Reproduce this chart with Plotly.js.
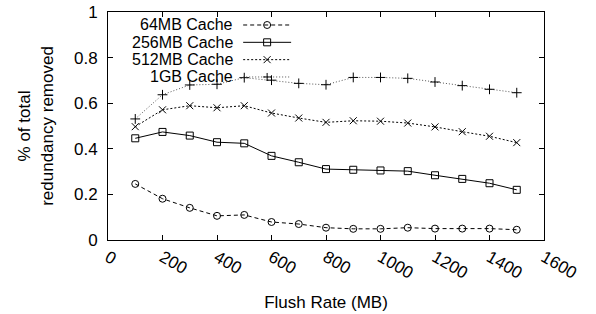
<!DOCTYPE html>
<html><head><meta charset="utf-8">
<script src="https://cdn.plot.ly/plotly-3.0.1.min.js"></script>
<style>html,body{margin:0;padding:0;background:#fff}#chart{width:596px;height:314px}</style>
</head><body><div id="chart"></div>
<script>
const flushRate = [100,200,300,400,500,600,700,800,900,1000,1100,1200,1300,1400,1500];
const seriesNames = ['64MB Cache','256MB Cache','512MB Cache','1GB Cache'];
const cache64  = [0.246,0.181,0.141,0.106,0.110,0.079,0.070,0.054,0.049,0.049,0.054,0.050,0.050,0.050,0.045];
const cache256 = [0.446,0.474,0.458,0.429,0.424,0.369,0.341,0.311,0.308,0.305,0.302,0.284,0.268,0.249,0.220];
const cache512 = [0.497,0.571,0.589,0.580,0.589,0.557,0.535,0.516,0.523,0.521,0.513,0.496,0.475,0.455,0.427];
const cache1g  = [0.531,0.637,0.680,0.683,0.712,0.701,0.687,0.681,0.713,0.713,0.709,0.693,0.677,0.661,0.646];
const xTicks = [0,200,400,600,800,1000,1200,1400,1600];
const yTicks = [0,0.2,0.4,0.6,0.8,1];

const styles = [
  {dash:'4px,3px', color:'#000', symbol:'circle-open', mk:'circle'},
  {dash:'solid', color:'#000', symbol:'square-open', mk:'square'},
  {dash:'2px,2px', color:'#000', symbol:'x-thin-open', mk:'x'},
  {dash:'1px,2px', color:'#555', symbol:'cross-thin-open', mk:'plus'}
];
const values = [cache64, cache256, cache512, cache1g];
const font = 'Liberation Sans, Arial, sans-serif';
const fs = 17;

const traces = values.map((v,i)=>({
  x: flushRate, y: v, type:'scatter', mode:'lines+markers', name: seriesNames[i],
  line:{color:styles[i].color, width:1, dash:styles[i].dash},
  marker:{symbol:styles[i].symbol, size:7, color:'#000', line:{color:'#000', width:1}},
  showlegend:false
}));

const annotations = [], shapes = [];
const legY = [0.943,0.867,0.791,0.715];
seriesNames.forEach((n,i)=>{
  annotations.push({xref:'paper', yref:'paper', x:0.289, y:legY[i], text:n, showarrow:false,
    xanchor:'right', yanchor:'middle', borderpad:0,
    font:{family:font, size:16, color:'#000'}});
  shapes.push({type:'line', xref:'paper', yref:'paper', x0:0.310, x1:0.420, y0:legY[i], y1:legY[i],
    line:{color:styles[i].color, width:1, dash:styles[i].dash}});
  const cx = 0.365, s = 3.5;
  const base = {xref:'paper', yref:'paper', xsizemode:'pixel', ysizemode:'pixel', xanchor:cx, yanchor:legY[i],
    line:{color:'#000', width:1}, fillcolor:'rgba(0,0,0,0)'};
  if (styles[i].mk==='circle') shapes.push(Object.assign({type:'circle', x0:-s, x1:s, y0:-s, y1:s}, base));
  else if (styles[i].mk==='square') shapes.push(Object.assign({type:'rect', x0:-s, x1:s, y0:-s, y1:s}, base));
  else if (styles[i].mk==='x') shapes.push(Object.assign({type:'path', path:`M${-s},${-s}L${s},${s}M${-s},${s}L${s},${-s}`}, base));
  else shapes.push(Object.assign({type:'path', path:`M${-s-0.5},0L${s+0.5},0M0,${-s-0.5}L0,${s+0.5}`}, base));
});

const layout = {
  width:596, height:314,
  margin:{l:108, r:52, t:12, b:74},
  paper_bgcolor:'#fff', plot_bgcolor:'#fff',
  font:{family:font, size:fs, color:'#000'},
  xaxis:{range:[0,1600], tickvals:xTicks, ticktext:xTicks.map(String), tickangle:30,
    ticks:'inside', ticklen:5, tickcolor:'#000', showline:true, linecolor:'#000', linewidth:1,
    mirror:'ticks', showgrid:false, zeroline:false, tickfont:{family:font, size:fs},
    title:{text:'Flush Rate (MB)', font:{family:font, size:fs}, standoff:14}},
  yaxis:{range:[0,1], tickvals:yTicks, ticktext:yTicks.map(String),
    ticks:'inside', ticklen:5, tickcolor:'#000', showline:true, linecolor:'#000', linewidth:1,
    mirror:'ticks', showgrid:false, zeroline:false, tickfont:{family:font, size:fs},
    ticklabelstandoff:6,
    title:{text:'% of total<br>redundancy removed', font:{family:font, size:fs}, standoff:16}},
  annotations, shapes, showlegend:false
};
Plotly.newPlot('chart', traces, layout, {staticPlot:true, displayModeBar:false});
</script></body></html>
